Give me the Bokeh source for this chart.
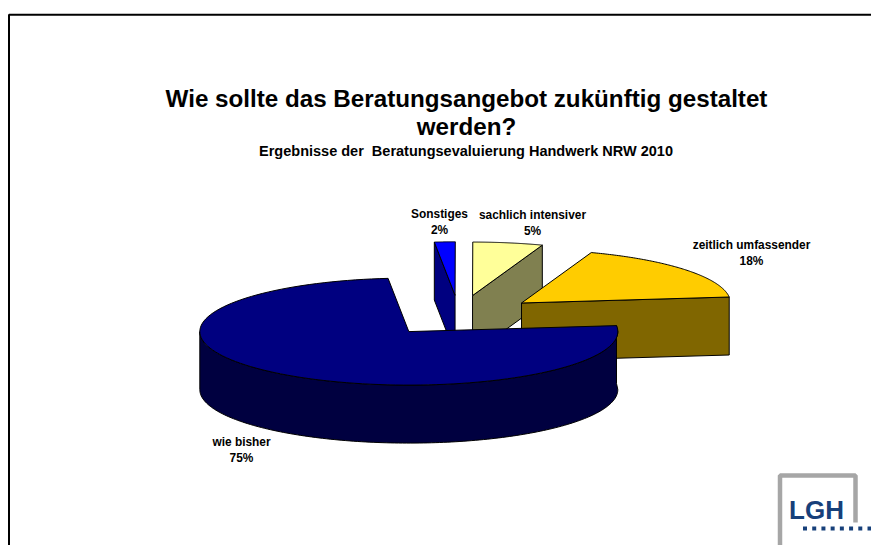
import numpy as np
from bokeh.plotting import figure
from bokeh.models import Range1d
from bokeh.core.properties import value
from bokeh.embed import file_html
from bokeh.resources import INLINE

# Data
categories = ["Sonstiges", "sachlich intensiver", "zeitlich umfassender", "wie bisher"]
percent_labels = ["2%", "5%", "18%", "75%"]
slice_values = [1.6, 5.4, 17.8, 75.2]
top_colors = ["#0000FF", "#FFFF99", "#FFCC00", "#000080"]
side_colors = ["#000080", "#808050", "#806600", "#000040"]
title_lines = ["Wie sollte das Beratungsangebot zukünftig gestaltet", "werden?"]
subtitle = "Ergebnisse der\u00a0 Beratungsevaluierung Handwerk NRW 2010"

# Pie geometry, in page pixels
CX, CY, RX, RY, DEPTH, EXPLODE = 458.5, 315.2, 209.0, 53.5, 58.0, 0.382
START = 95.7
FONT = value("Liberation Sans")

p = figure(width=871, height=545, x_range=Range1d(0, 871), y_range=Range1d(545, 0),
           output_backend="svg", toolbar_location=None, min_border=0,
           x_axis_type=None, y_axis_type=None, outline_line_color=None,
           background_fill_color="white", border_fill_color="white")
p.grid.visible = False

def ell(a, ox, oy, dy=0.0):
    r = np.radians(a)
    return ox + RX * np.cos(r), oy - RY * np.sin(r) + dy

slices = []
a = START
for v in slice_values:
    span = v * 3.6
    slices.append((a, a - span))
    a -= span

def poly(xs, ys, color):
    p.patch(list(xs), list(ys), fill_color=color, line_color="black", line_width=1)

for i, (a0, a1) in enumerate(slices):
    mid = (a0 + a1) / 2
    ox, oy = ell(mid, 0, 0)
    ox, oy = CX + EXPLODE * (ox), CY + EXPLODE * oy
    angs = np.linspace(a0, a1, 120)
    ax, ay = ell(angs, ox, oy)
    if i == 0:   # left cut face
        ex, ey = ell(a0, ox, oy)
        poly([ox, ex, ex, ox], [oy, ey, ey + DEPTH, oy + DEPTH], side_colors[i])
    elif i < 3:  # right cut face
        ex, ey = ell(a1, ox, oy)
        poly([ox, ex, ex, ox], [oy, ey, ey + DEPTH, oy + DEPTH], side_colors[i])
    else:        # front rim
        fx, fy = ell(np.linspace(0, -180, 160), ox, oy)
        sx, sy = ell(a0, ox, oy)
        poly(np.r_[sx, fx, fx[::-1], sx], np.r_[sy, fy, (fy + DEPTH)[::-1], sy + DEPTH], side_colors[i])
    poly(np.r_[ox, ax], np.r_[oy, ay], top_colors[i])

def label(x, y, s, size):
    p.text([x], [y], text=[s], text_font=FONT, text_font_style="bold", text_font_size=size,
           text_align="center", text_baseline="middle", text_color="black")

label(466, 98, title_lines[0], "24.2px")
label(466, 126, title_lines[1], "24.2px")
label(465.5, 150, subtitle, "14.5px")

label_pos = [(439, 213), (532, 214), (751, 244), (241, 441)]
for (x, y), c, t in zip(label_pos, categories, percent_labels):
    label(x, y, c, "11.9px")
    label(x, y + 16.5, t, "11.9px")

# Slide frame
p.line([8.5, 8.5, 871], [545, 14.3, 14.3], line_color="black", line_width=2)

# Logo
GREY = "#a6a6a6"
p.line([779.5, 779.5, 855, 855], [545, 475, 475, 522], line_color=GREY, line_width=4.5)
p.text([816], [509], text=["LGH"], text_font=value("Liberation Sans"), text_font_style="bold",
       text_font_size="26px", text_align="center", text_baseline="middle", text_color="#17407a")
p.scatter(list(np.linspace(804.5, 869, 8)), [528] * 8, marker="square", size=4,
          fill_color="#17407a", line_color=None)

open("out.html", "w").write(file_html(p, INLINE))
